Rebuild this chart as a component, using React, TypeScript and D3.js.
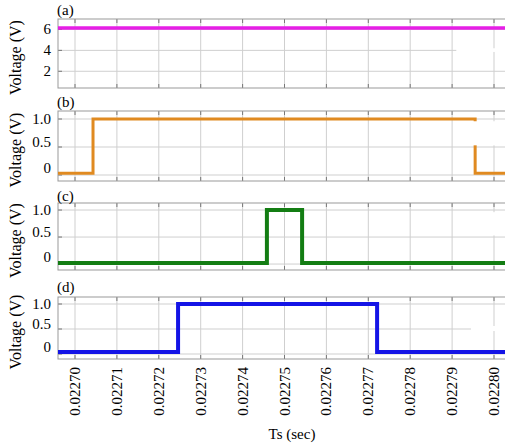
import React, { useEffect, useRef } from "react";
import * as d3 from "d3";

// time axis (sec)
const timeTicks = [0.0227, 0.02271, 0.02272, 0.02273, 0.02274, 0.02275, 0.02276, 0.02277, 0.02278, 0.02279, 0.0228];

// (a) DC voltage
const aTimes = [0.02269, 0.02281];
const aValues = [6.15, 6.15];
// (b) pulse
const bTimes = [0.02269, 0.0227043, 0.0227955, 0.02281];
const bValues = [0.03, 1.0, 0.03, 0.03];
// (c) pulse
const cTimes = [0.02269, 0.0227458, 0.0227542, 0.02281];
const cValues = [0.02, 1.0, 0.02, 0.02];
// (d) pulse
const dTimes = [0.02269, 0.0227246, 0.0227721, 0.02281];
const dValues = [0.04, 1.0, 0.04, 0.04];

const aTicks = [2, 4, 6];
const pulseTicks = [0, 0.5, 1.0];

const W = 505, H = 445;

const panels = [
  { tag: "(a)", times: aTimes, values: aValues, ticks: aTicks, fmt: (v: number) => String(v), domain: [0.4, 7], top: 19, bottom: 88, color: "#e61ee6", lw: 3.5, labelY: 10, masks: [[0.0227910, 0.0228100, 3.85, 4.2]] },
  { tag: "(b)", times: bTimes, values: bValues, ticks: pulseTicks, fmt: (v: number) => (v === 0 ? "0" : v.toFixed(1)), domain: [-0.107, 1.143], top: 111, bottom: 181, color: "#e08a20", lw: 3, labelY: 102, masks: [[0.0227906, 0.0228100, 0.53, 0.96]] },
  { tag: "(c)", times: cTimes, values: cValues, ticks: pulseTicks, fmt: (v: number) => (v === 0 ? "0" : v.toFixed(1)), domain: [-0.11, 1.13], top: 203, bottom: 270, color: "#137d13", lw: 4, labelY: 196, masks: [[0.0227906, 0.0228100, 0.53, 0.96]] },
  { tag: "(d)", times: dTimes, values: dValues, ticks: pulseTicks, fmt: (v: number) => (v === 0 ? "0" : v.toFixed(1)), domain: [-0.1, 1.14], top: 297, bottom: 359, color: "#1414e6", lw: 4, labelY: 287, masks: [[0.0227945, 0.0228100, 0.46, 0.56]] },
];

const labelShift: Record<string, number> = { "1": 0, "0.5": -5, "0": -7 };

export default function App() {
  const svgRef = useRef<SVGSVGElement>(null);

  useEffect(() => {
    const svg = d3.select(svgRef.current);
    svg.selectAll("*").remove();

    const left = 58, right = 512;
    const x = d3.scaleLinear().domain([0.0227, 0.0228]).range([75, 494]);
    const font = "Liberation Serif";

    panels.forEach((p, i) => {
      const y = d3.scaleLinear().domain(p.domain).range([p.bottom, p.top]);
      const g = svg.append("g");

      g.append("clipPath").attr("id", `clip${i}`)
        .append("rect").attr("x", left).attr("y", p.top).attr("width", right - left).attr("height", p.bottom - p.top);

      // grid
      g.selectAll(".vg").data(timeTicks).join("line")
        .attr("x1", d => x(d)).attr("x2", d => x(d))
        .attr("y1", p.top).attr("y2", p.bottom)
        .attr("stroke", "#cfcfcf").attr("stroke-width", 1);
      g.selectAll(".hg").data(p.ticks).join("line")
        .attr("x1", left).attr("x2", right)
        .attr("y1", d => y(d)).attr("y2", d => y(d))
        .attr("stroke", "#cfcfcf").attr("stroke-width", 1);

      // inward ticks
      g.selectAll(".bt").data(timeTicks).join("line")
        .attr("x1", d => x(d)).attr("x2", d => x(d))
        .attr("y1", p.bottom).attr("y2", p.bottom - 4)
        .attr("stroke", "#777");
      g.selectAll(".tt").data(timeTicks).join("line")
        .attr("x1", d => x(d)).attr("x2", d => x(d))
        .attr("y1", p.top).attr("y2", p.top + 4)
        .attr("stroke", "#777");
      g.selectAll(".lt").data(p.ticks).join("line")
        .attr("x1", left).attr("x2", left + 4)
        .attr("y1", d => y(d)).attr("y2", d => y(d))
        .attr("stroke", "#777");

      // box
      g.append("rect")
        .attr("x", left).attr("y", p.top)
        .attr("width", right - left).attr("height", p.bottom - p.top)
        .attr("fill", "none").attr("stroke", "#999");

      // signal
      const line = d3.line<number>()
        .x((_, k) => x(p.times[k]))
        .y(d => y(d))
        .curve(d3.curveStepAfter);
      g.append("path")
        .attr("clip-path", `url(#clip${i})`)
        .attr("d", line(p.values))
        .attr("fill", "none")
        .attr("stroke", p.color)
        .attr("stroke-width", p.lw);

      // scan artefacts (white patches in the original figure)
      p.masks.forEach(m => {
        g.append("rect")
          .attr("x", x(m[0])).attr("y", y(m[3]))
          .attr("width", x(m[1]) - x(m[0])).attr("height", y(m[2]) - y(m[3]))
          .attr("fill", "white");
      });

      // y tick labels
      g.selectAll(".yl").data(p.ticks).join("text")
        .attr("x", 51)
        .attr("y", d => y(d) + (i === 0 ? 0 : labelShift[String(d)] ?? 0))
        .attr("text-anchor", "end")
        .attr("dominant-baseline", "central")
        .attr("font-family", font)
        .attr("font-size", 15)
        .text(d => p.fmt(d));

      // panel tag
      g.append("text")
        .attr("x", 57).attr("y", p.labelY)
        .attr("dominant-baseline", "central")
        .attr("font-family", font)
        .attr("font-size", 15)
        .text(p.tag);

      // y axis title
      g.append("text")
        .attr("transform", `translate(15,${(p.top + p.bottom) / 2 + 4}) rotate(-90)`)
        .attr("text-anchor", "middle")
        .attr("dominant-baseline", "central")
        .attr("font-family", font)
        .attr("font-size", 16)
        .text("Voltage (V)");
    });

    // x tick labels (under last panel)
    const last = panels[panels.length - 1];
    svg.selectAll(".xl").data(timeTicks).join("text")
      .attr("transform", d => `translate(${x(d)},${last.bottom + 8}) rotate(-90)`)
      .attr("text-anchor", "end")
      .attr("dominant-baseline", "central")
      .attr("font-family", font)
      .attr("font-size", 15)
      .text(d => d.toFixed(5));

    svg.append("text")
      .attr("x", 292).attr("y", 439)
      .attr("text-anchor", "middle")
      .attr("font-family", font)
      .attr("font-size", 15)
      .text("Ts (sec)");
  }, []);

  return (
    <div style={{ position: "absolute", left: 0, top: 0 }}>
      <svg ref={svgRef} width={W} height={H} style={{ display: "block", background: "white" }}></svg>
    </div>
  );
}
